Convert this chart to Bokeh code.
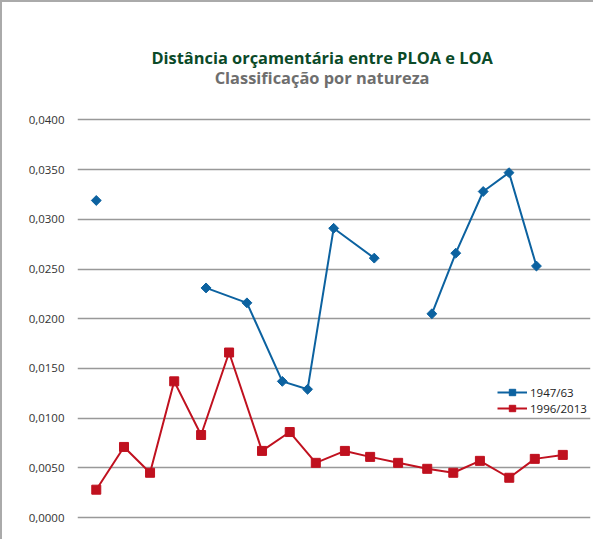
import math
from bokeh.plotting import figure
from bokeh.models import (FixedTicker, CustomJSTickFormatter, Range1d, Label,
                          Legend, LegendItem)
from bokeh.embed import file_html
from bokeh.resources import INLINE

NaN = float("nan")

# Series 1947/63 (gaps where no value)
blue_x = [0, NaN, 4.0, 5.49, 6.78, 7.70, 8.65, 10.13, NaN, 12.23, 13.1, 14.1, 15.04, 16.04]
blue_y = [0.0319, NaN, 0.0231, 0.0216, 0.0137, 0.0129, 0.0291, 0.0261, NaN,
          0.0205, 0.0266, 0.0328, 0.0347, 0.0253]

# Series 1996/2013
red_x = [0, 1.01, 1.96, 2.84, 3.82, 4.84, 6.04, 7.05, 8.0, 9.06, 9.98, 11.0,
         12.06, 13.01, 13.98, 15.05, 15.98, 17.0]
red_y = [0.0028, 0.0071, 0.0045, 0.0137, 0.0083, 0.0166, 0.0067, 0.0086, 0.0055,
         0.0067, 0.0061, 0.0055, 0.0049, 0.0045, 0.0057, 0.0040, 0.0059, 0.0063]

y_ticks = [0.0, 0.005, 0.010, 0.015, 0.020, 0.025, 0.030, 0.035, 0.040]
title_text = "Distância orçamentária entre PLOA e LOA"
subtitle_text = "Classificação por natureza"
series_names = ["1947/63", "1996/2013"]

BLUE = "#0c62a0"
RED = "#c0111f"
FONT = "Open Sans"

p = figure(width=593, height=539, output_backend="svg", toolbar_location=None,
           x_range=Range1d(-0.684, 18.01), y_range=Range1d(-0.000704, 0.05182),
           min_border_left=75, min_border_right=5, min_border_top=0,
           min_border_bottom=17)
p.styles = {"border-top": "2px solid #aaaaaa", "border-left": "2px solid #aaaaaa",
            "box-sizing": "border-box"}
p.outline_line_color = None
p.background_fill_color = "white"
p.border_fill_color = "white"

p.xaxis.visible = False
p.xgrid.visible = False

p.yaxis.ticker = FixedTicker(ticks=y_ticks)
p.yaxis.formatter = CustomJSTickFormatter(code="return tick.toFixed(4).replace('.', ',');")
p.yaxis.axis_line_color = None
p.yaxis.major_tick_line_color = None
p.yaxis.minor_tick_line_color = None
p.yaxis.major_label_standoff = 7
p.yaxis.major_label_text_font = FONT
p.yaxis.major_label_text_font_size = "11.5px"
p.yaxis.major_label_text_color = "#333333"
p.ygrid.ticker = FixedTicker(ticks=y_ticks)
p.ygrid.grid_line_color = "#999999"
p.ygrid.grid_line_width = 1.5

bl = p.line(blue_x, blue_y, line_color=BLUE, line_width=2)
bm = p.scatter(blue_x, blue_y, marker="square", angle=math.pi / 4, size=7,
               fill_color=BLUE, line_color=BLUE)
rl = p.line(red_x, red_y, line_color=RED, line_width=2)
rm = p.scatter(red_x, red_y, marker="square", size=9, fill_color=RED, line_color=RED)

legend = Legend(items=[LegendItem(label=series_names[0], renderers=[bl, bm]),
                       LegendItem(label=series_names[1], renderers=[rl, rm])],
                location=(420, 108), padding=0, margin=0, spacing=0,
                glyph_width=30, glyph_height=16, label_height=16, label_standoff=3,
                label_text_font=FONT, label_text_font_size="11.5px",
                label_text_color="#222222", background_fill_alpha=0,
                border_line_color=None)
p.add_layout(legend, "center")

p.add_layout(Label(x=244.6, y=467.5, x_units="screen", y_units="screen", text=title_text,
                   text_align="center", text_baseline="middle", text_font=FONT,
                   text_font_style="bold", text_font_size="16.4px", text_color="#0b4a28"))
p.add_layout(Label(x=244.6, y=447.5, x_units="screen", y_units="screen", text=subtitle_text,
                   text_align="center", text_baseline="middle", text_font=FONT,
                   text_font_style="bold", text_font_size="16.4px", text_color="#6e6e6e"))

open("out.html", "w").write(file_html(p, INLINE))
